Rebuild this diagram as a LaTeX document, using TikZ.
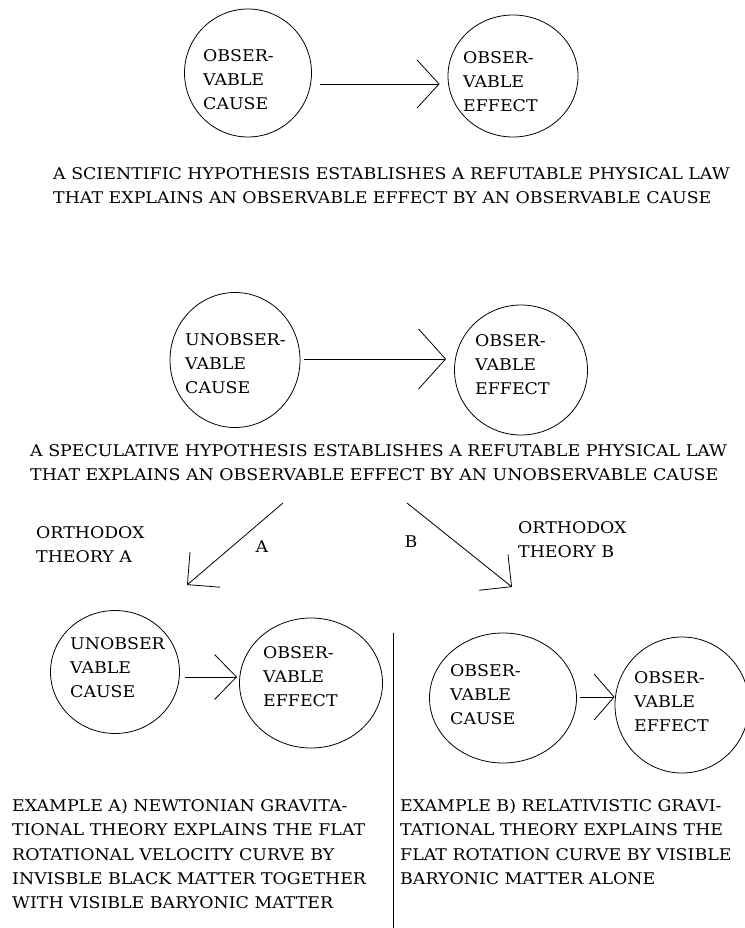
\documentclass[tikz,border=0pt]{standalone}
\usepackage{fontspec}
\setmainfont[FakeStretch=1.08]{DejaVu Serif}
\usetikzlibrary{arrows.meta}
\usetikzlibrary{shapes.geometric}

\tikzset{
  cell/.style={draw, ellipse, inner sep=0pt, line width=0.8pt},
  caption/.style={anchor=north west, inner sep=0pt, align=left,
                  font=\fontsize{16.1}{24.3}\selectfont},
  tag/.style={inner sep=0pt, font=\fontsize{16.1}{24.3}\selectfont},
  link/.style={line width=0.8pt},
}

\begin{document}
\begin{tikzpicture}[x=1pt, y=-1pt]
\useasboundingbox (0,0) rectangle (744,928);
% scientific hypothesis
\node[cell, minimum width=127pt, minimum height=128pt] (cause1) at (248,73) {};
\node[cell, minimum width=130pt, minimum height=122pt] (effect1) at (513,76) {};
\node[caption] (cause1txt) at (203,49) {OBSER-\\VABLE\\CAUSE};
\node[caption] (effect1txt) at (463,51) {OBSER-\\VABLE\\EFFECT};
\draw[link, -{Straight Barb[length=22pt, width=48pt]}, shorten <=8pt, shorten >=8pt]
  ([yshift=-11pt]cause1.east) -- ([yshift=-8pt]effect1.west);
\node[caption] (hypo1) at (53,167)
  {A SCIENTIFIC HYPOTHESIS ESTABLISHES A REFUTABLE PHYSICAL LAW\\
   THAT EXPLAINS AN OBSERVABLE EFFECT BY AN OBSERVABLE CAUSE};
% speculative hypothesis
\node[cell, minimum width=130pt, minimum height=135pt] (cause2) at (235,360) {};
\node[cell, minimum width=133pt, minimum height=130pt] (effect2) at (521,370) {};
\node[caption] (cause2txt) at (185,333) {UNOBSER-\\VABLE\\CAUSE};
\node[caption] (effect2txt) at (475,334) {OBSER-\\VABLE\\EFFECT};
\draw[link, -{Straight Barb[length=27pt, width=60pt]}, shorten <=4pt, shorten >=8pt]
  ([yshift=1pt]cause2.east) -- ([yshift=11pt]effect2.west);
\node[caption] (hypo2) at (30,444)
  {A SPECULATIVE HYPOTHESIS ESTABLISHES A REFUTABLE PHYSICAL LAW\\
   THAT EXPLAINS AN OBSERVABLE EFFECT BY AN UNOBSERVABLE CAUSE};
% the two branches
\coordinate (fromA) at (283,503);
\coordinate (toA) at (187,585);
\coordinate (fromB) at (407,503);
\coordinate (toB) at (512,587);
\draw[link, -{Straight Barb[length=23pt, width=46pt]}] (fromA) -- (toA);
\draw[link, -{Straight Barb[length=23pt, width=46pt]}] (fromB) -- (toB);
\node[caption] (orthoA) at (36,526) {ORTHODOX\\THEORY A};
\node[caption] (orthoB) at (518,521) {ORTHODOX\\THEORY B};
\node[tag] (tagA) at (262,547) {A};
\node[tag] (tagB) at (411,542) {B};
% theory A
\node[cell, minimum width=129pt, minimum height=123pt] (cause3) at (115,672) {};
\node[cell, minimum width=143pt, minimum height=130pt] (effect3) at (311,683) {};
\node[caption] (cause3txt) at (70,637) {UNOBSER\\VABLE\\CAUSE};
\node[caption] (effect3txt) at (263,646) {OBSER-\\VABLE\\EFFECT};
\draw[link, -{Straight Barb[length=22pt, width=45pt]}, shorten <=5pt, shorten >=2pt]
  ([yshift=-5pt]cause3.east) -- ([yshift=6pt]effect3.west);
% theory B
\node[cell, minimum width=147pt, minimum height=130pt] (cause4) at (503,698) {};
\node[cell, minimum width=134pt, minimum height=136pt] (effect4) at (682,705) {};
\node[caption] (cause4txt) at (450,664) {OBSER-\\VABLE\\CAUSE};
\node[caption] (effect4txt) at (634,671) {OBSER-\\VABLE\\EFFECT};
\draw[link, -{Straight Barb[length=20pt, width=46pt]}, shorten <=3pt]
  ([yshift=1pt]cause4.east) -- ([yshift=8pt]effect4.west);
\draw[link] (393,633) -- (393,928);
% examples
\node[caption] (exampleA) at (12,799)
  {EXAMPLE A) NEWTONIAN GRAVITA-\\
   TIONAL THEORY EXPLAINS THE FLAT\\
   ROTATIONAL VELOCITY CURVE BY\\
   INVISBLE BLACK MATTER TOGETHER\\
   WITH VISIBLE BARYONIC MATTER};
\node[caption] (exampleB) at (400,799)
  {EXAMPLE B) RELATIVISTIC GRAVI-\\
   TATIONAL THEORY EXPLAINS THE\\
   FLAT ROTATION CURVE BY VISIBLE\\
   BARYONIC MATTER ALONE};
\end{tikzpicture}
\end{document}
